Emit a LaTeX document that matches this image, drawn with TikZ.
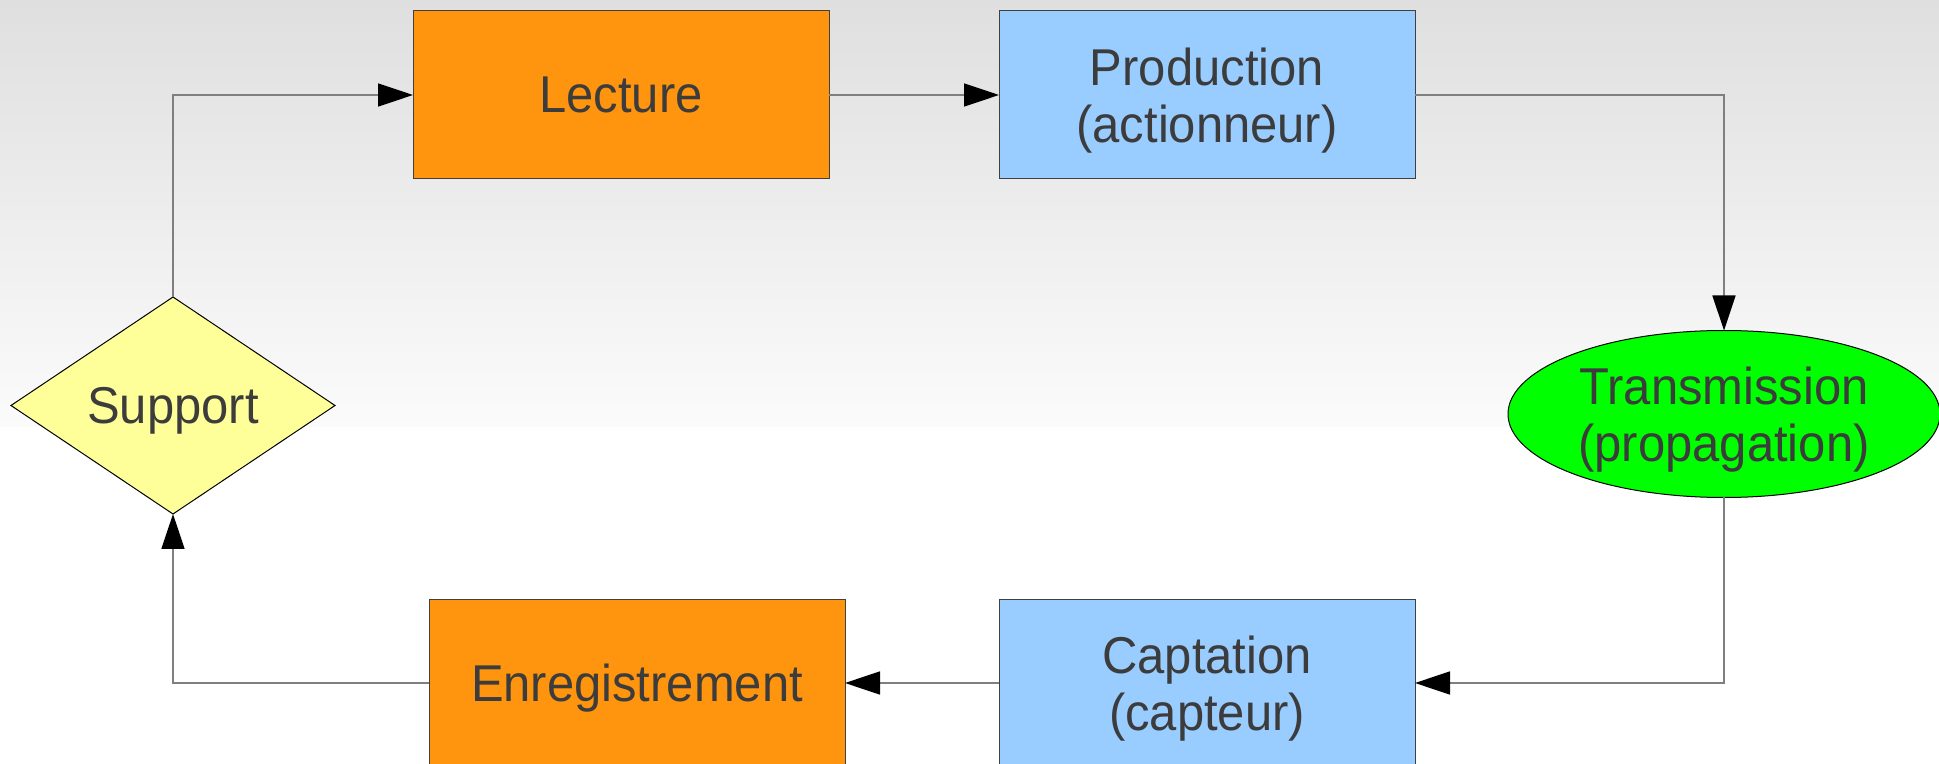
\documentclass[tikz,border=0pt]{standalone}
\usepackage{fontspec}
\setmainfont[FakeStretch=0.945]{Liberation Sans}
\usetikzlibrary{shapes.geometric,arrows.meta}
\definecolor{boxorange}{HTML}{FF950E}
\definecolor{boxblue}{HTML}{99CCFF}
\definecolor{boxgreen}{HTML}{00FF00}
\definecolor{boxyellow}{HTML}{FFFF99}
\definecolor{txtgray}{HTML}{3C3C3C}
\definecolor{linegray}{HTML}{7F7F7F}
\definecolor{bgtop}{HTML}{DFDFDF}
\definecolor{bgbottom}{HTML}{FBFBFB}

\begin{document}
\begin{tikzpicture}
  [
    x=0.5pt, y=-0.5pt,
    box/.style =
      {draw=black!75, line width=0.5pt, minimum width=208pt, minimum height=84pt,
       outer sep=0pt, text=txtgray, align=center, text depth=0pt,
       font=\fontsize{25.9}{28.5}\selectfont},
    oval/.style =
      {ellipse, draw=black, line width=0.5pt, fill=boxgreen, inner sep=0pt,
       minimum width=216pt, minimum height=83.5pt, outer sep=0pt,
       text=txtgray, align=center, text depth=0pt,
       font=\fontsize{25.9}{28.5}\selectfont},
    choice/.style =
      {diamond, draw=black, line width=0.5pt, fill=boxyellow, inner sep=0pt,
       minimum width=162pt, minimum height=108.5pt, outer sep=0pt,
       text=txtgray, text depth=0pt, font=\fontsize{25.9}{28.5}\selectfont},
    link/.style =
      {draw=linegray, line width=0.8pt,
       -{Triangle[length=17.5pt, width=11.5pt, color=black]}}
  ]
  \useasboundingbox (0,0) rectangle (1939,764);
  \fill [white] (0,0) rectangle (1939,764);
  \fill [top color=bgtop, bottom color=bgbottom] (0,0) rectangle (1939,427);

  \node [box, fill=boxorange] at (621, 95) (lecture) {Lecture};
  \node [box, fill=boxblue] at (1207, 95) (production) {Production\\(actionneur)};
  \node [oval] at (1724, 414) (transmission) {Transmission\\(propagation)};
  \node [box, fill=boxblue] at (1207, 683) (captation) {Captation\\(capteur)};
  \node [box, fill=boxorange] at (637, 683) (enregistrement) {Enregistrement};
  \node [choice] at (173, 405.5) (support) {Support};

  \draw [link] (support.north) |- (lecture.west);
  \draw [link] (lecture.east) -- (production.west);
  \draw [link] (production.east) -| (transmission.north);
  \draw [link] (transmission.south) |- (captation.east);
  \draw [link] (captation.west) -- (enregistrement.east);
  \draw [link] (enregistrement.west) -| (support.south);

\end{tikzpicture}
\end{document}
